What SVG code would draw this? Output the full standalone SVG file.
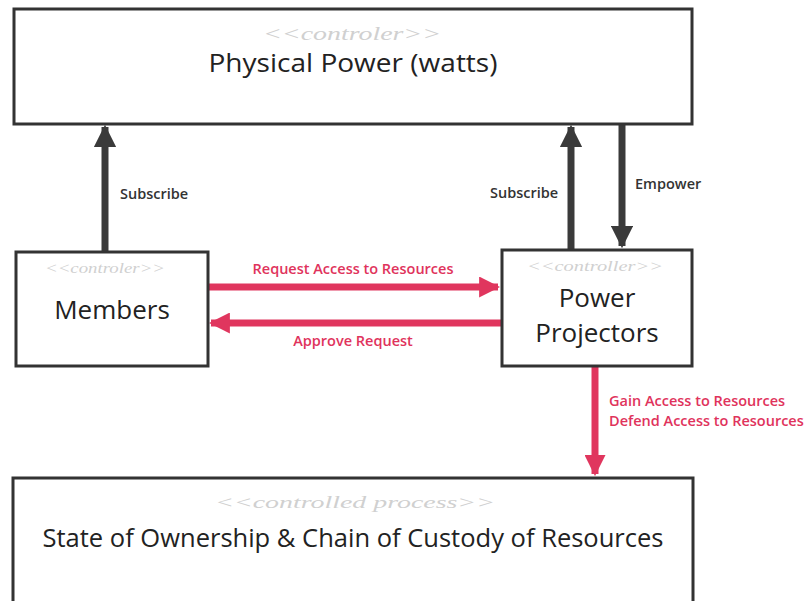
<svg xmlns="http://www.w3.org/2000/svg" width="809" height="601" viewBox="0 0 809 601">
<defs>
<style>
.box{fill:#ffffff;stroke:#333333;stroke-width:3}
.st{font-family:"Liberation Serif",serif;font-style:italic;fill:#d0d0d0;text-anchor:middle}
.main{font-family:"Open Sans","Liberation Sans",sans-serif;font-size:26px;font-weight:500;fill:#222222;text-anchor:middle}
.lbl{font-family:"Open Sans","Liberation Sans",sans-serif;font-size:14.5px;font-weight:600;fill:#333333}
.plbl{font-family:"Open Sans","Liberation Sans",sans-serif;font-size:14.5px;font-weight:600;fill:#e0335c}
.dk{stroke:#3a3a3a;stroke-width:7;fill:none}
.pk{stroke:#e0365e;stroke-width:7;fill:none}
</style>
<marker id="ad" viewBox="0 0 10 10" refX="9" refY="5" markerWidth="3.2" markerHeight="3.2" orient="auto" markerUnits="strokeWidth">
<path d="M0,0 L10,5 L0,10 Z" fill="#3a3a3a"/>
</marker>
<marker id="ap" viewBox="0 0 10 10" refX="9" refY="5" markerWidth="3" markerHeight="3" orient="auto" markerUnits="strokeWidth">
<path d="M0,0 L10,5 L0,10 Z" fill="#e0365e"/>
</marker>
</defs>
<rect width="809" height="601" fill="#ffffff"/>
<g id="connectors">
<line class="dk" x1="105" y1="251" x2="105" y2="127" marker-end="url(#ad)"/>
<line class="dk" x1="571" y1="249" x2="571" y2="127" marker-end="url(#ad)"/>
<line class="dk" x1="622" y1="125" x2="622" y2="246" marker-end="url(#ad)"/>
<line class="pk" x1="209" y1="287" x2="498" y2="287" marker-end="url(#ap)"/>
<line class="pk" x1="501" y1="323" x2="211" y2="323" marker-end="url(#ap)"/>
<line class="pk" x1="595" y1="367" x2="595" y2="474" marker-end="url(#ap)"/>
<text class="lbl" x="120" y="199">Subscribe</text>
<text class="lbl" x="490" y="198">Subscribe</text>
<text class="lbl" x="635" y="189">Empower</text>
<text class="plbl" x="353" y="274" text-anchor="middle">Request Access to Resources</text>
<text class="plbl" x="353" y="346" text-anchor="middle">Approve Request</text>
<text class="plbl" x="609" y="406">Gain Access to Resources</text>
<text class="plbl" x="609" y="426">Defend Access to Resources</text>
</g>
<g id="physical-power">
<rect class="box" x="14" y="9" width="678" height="115"/>
<text class="st" x="352" y="40" font-size="18" textLength="178" lengthAdjust="spacingAndGlyphs">&lt;&lt;controler&gt;&gt;</text>
<text class="main" x="353" y="72" font-size="28" textLength="289" lengthAdjust="spacingAndGlyphs">Physical Power (watts)</text>
</g>
<g id="members">
<rect class="box" x="16" y="252" width="192" height="114"/>
<text class="st" x="105" y="273" font-size="14" textLength="120" lengthAdjust="spacingAndGlyphs">&lt;&lt;controler&gt;&gt;</text>
<text class="main" x="112" y="319">Members</text>
</g>
<g id="power-projectors">
<rect class="box" x="502" y="250" width="190" height="116"/>
<text class="st" x="595" y="271" font-size="15" textLength="136" lengthAdjust="spacingAndGlyphs">&lt;&lt;controller&gt;&gt;</text>
<text class="main" x="597" y="307">Power</text>
<text class="main" x="597" y="342">Projectors</text>
</g>
<g id="state-of-ownership">
<rect class="box" x="13" y="478" width="680" height="126"/>
<text class="st" x="355" y="508" font-size="17" textLength="280" lengthAdjust="spacingAndGlyphs">&lt;&lt;controlled process&gt;&gt;</text>
<text class="main" x="353" y="547" textLength="621" lengthAdjust="spacingAndGlyphs">State of Ownership &amp; Chain of Custody of Resources</text>
</g>
</svg>
